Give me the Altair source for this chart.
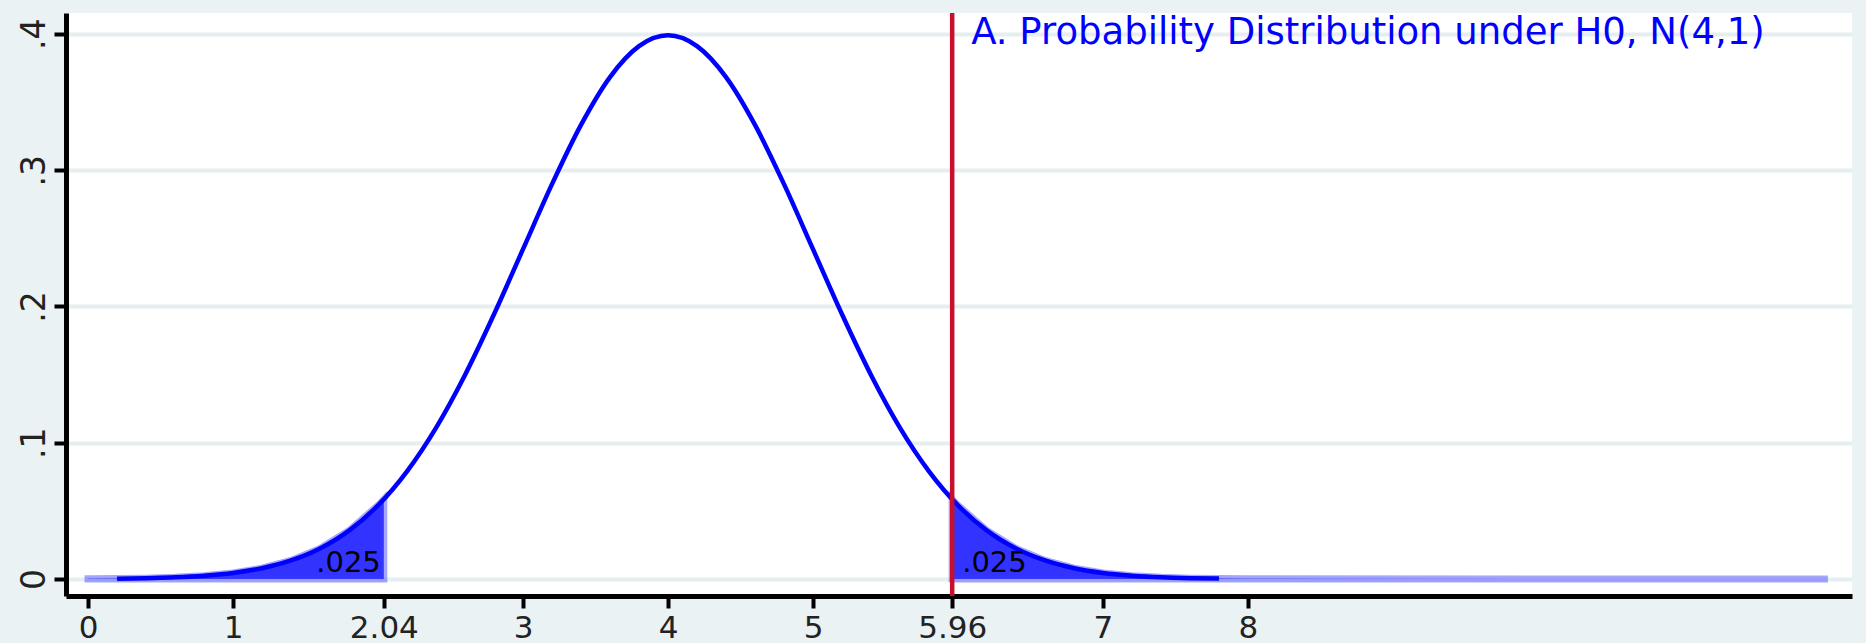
import altair as alt
import pandas as pd

# ---- data ----
curve_x = [0.2, 0.4, 0.6, 0.8, 1.0, 1.2, 1.4, 1.6, 1.8, 2.0, 2.2, 2.4, 2.6, 2.8, 3.0,
           3.2, 3.4, 3.6, 3.8, 4.0, 4.2, 4.4, 4.6, 4.8, 5.0, 5.2, 5.4, 5.6, 5.8, 6.0,
           6.2, 6.4, 6.6, 6.8, 7.0, 7.2, 7.4, 7.6, 7.8]
curve_density = [0.0001, 0.0006, 0.0012, 0.0024, 0.0044, 0.0079, 0.0136, 0.0224, 0.0355, 0.0540,
                 0.0790, 0.1109, 0.1497, 0.1942, 0.2420, 0.2897, 0.3332, 0.3683, 0.3910, 0.3989,
                 0.3910, 0.3683, 0.3332, 0.2897, 0.2420, 0.1942, 0.1497, 0.1109, 0.0790, 0.0540,
                 0.0355, 0.0224, 0.0136, 0.0079, 0.0044, 0.0024, 0.0012, 0.0006, 0.0003]

left_tail_x = [0.0, 0.2, 0.4, 0.6, 0.8, 1.0, 1.2, 1.4, 1.6, 1.8, 2.0, 2.04]
left_tail_density = [0.0001, 0.0003, 0.0006, 0.0012, 0.0024, 0.0044, 0.0079, 0.0136, 0.0224,
                     0.0355, 0.0540, 0.0584]
right_tail_x = [5.96, 6.0, 6.2, 6.4, 6.6, 6.8, 7.0, 7.2, 7.4, 7.6, 7.8, 8.0, 12.0]
right_tail_density = [0.0584, 0.0540, 0.0355, 0.0224, 0.0136, 0.0079, 0.0044, 0.0024, 0.0012,
                      0.0006, 0.0003, 0.0001, 0.0]

critical_values = [2.04, 5.96]
tail_labels = [".025", ".025"]
title_text = "A. Probability Distribution under H0, N(4,1)"
x_ticks = [0, 1, 2.04, 3, 4, 5, 5.96, 7, 8]
y_ticks = [0, 0.1, 0.2, 0.3, 0.4]

# ---- tables ----
curve_df = pd.DataFrame({"x": curve_x, "y": curve_density})
tails_df = pd.concat([
    pd.DataFrame({"x": left_tail_x, "y": left_tail_density, "tail": "left"}),
    pd.DataFrame({"x": right_tail_x, "y": right_tail_density, "tail": "right"}),
])
crit_df = pd.DataFrame({"x": [critical_values[1]]})
label_df = pd.DataFrame({"x": critical_values, "label": tail_labels})

W, H = 1786, 583
FONT = "DejaVu Sans"

xscale = alt.Scale(domain=[-0.152, 12.166], nice=False, zero=False)
yscale = alt.Scale(domain=[-0.0125, 0.4153], nice=False, zero=False)

xaxis = alt.Axis(values=x_ticks, labelExpr="'' + datum.value", title=None, grid=False,
                 domainColor="black", domainWidth=5, tickColor="black", tickWidth=4,
                 tickSize=12, labelFont=FONT, labelFontSize=31, labelColor="#222222",
                 labelPadding=5, labelFlush=False)
yaxis = alt.Axis(values=y_ticks,
                 labelExpr="datum.value == 0 ? '0' : replace(format(datum.value, '.1f'), '0.', '.')",
                 title=None, grid=True, gridColor="#e6eef0", gridWidth=4,
                 domainColor="black", domainWidth=5, tickColor="black", tickWidth=4,
                 tickSize=12, labelFont=FONT, labelFontSize=33, labelColor="#222222",
                 labelAngle=270, labelAlign="center", labelBaseline="alphabetic",
                 labelPadding=10, labelFlush=False)


def X(field="x"):
    return alt.X(f"{field}:Q", scale=xscale, axis=xaxis)


def Y(field="y"):
    return alt.Y(f"{field}:Q", scale=yscale, axis=yaxis)


tails = alt.Chart(tails_df).mark_area(
    color="#3333ff", stroke="#3a3aff", strokeOpacity=0.45, strokeWidth=7, opacity=1
).encode(x=X(), y=Y(), y2=alt.datum(0), detail="tail:N")

curve = alt.Chart(curve_df).mark_line(
    color="#0000ff", strokeWidth=4.5, interpolate="monotone"
).encode(x=X(), y=Y())

crit = alt.Chart(crit_df).mark_rule(color="#c8102e", strokeWidth=4.5).encode(
    x=X(), y=alt.value(0), y2=alt.value(H)
)

left_lab = alt.Chart(label_df.iloc[[0]]).mark_text(
    align="right", baseline="alphabetic", font=FONT, fontSize=29, color="black", dx=-3, dy=-7
).encode(x=X(), y=alt.datum(0), text="label:N")

right_lab = alt.Chart(label_df.iloc[[1]]).mark_text(
    align="left", baseline="alphabetic", font=FONT, fontSize=29, color="black", dx=10, dy=-7
).encode(x=X(), y=alt.datum(0), text="label:N")

title = alt.Chart(crit_df).mark_text(
    align="left", baseline="alphabetic", font=FONT, fontSize=37, color="#0000ff", dx=19, dy=10
).encode(x=X(), y=alt.datum(0.4), text=alt.value(title_text))

chart = alt.layer(tails, curve, crit, left_lab, right_lab, title).properties(
    width=W, height=H,
    background="#eaf2f3",
    padding={"left": 66, "top": 13, "right": 14, "bottom": 47},
    autosize=alt.AutoSizeParams(type="none"),
).configure_view(fill="white", strokeWidth=0)

chart.save("out.html", embed_options={"renderer": "svg", "actions": False})
